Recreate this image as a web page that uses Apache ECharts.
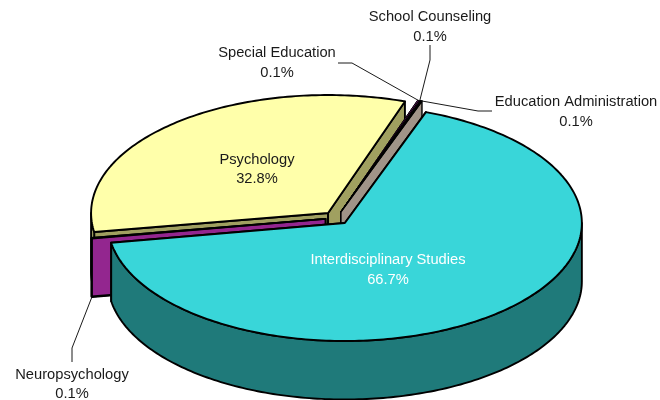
<!DOCTYPE html>
<html>
<head>
<meta charset="utf-8">
<style>html,body{margin:0;padding:0;background:#fff}#c{width:660px;height:400px}</style>
<script src="https://cdn.jsdelivr.net/npm/echarts@6/dist/echarts.min.js"></script>
</head>
<body>
<div id="c"></div>
<script>
// Data, clockwise from the top of the pie
const categories = ['Interdisciplinary Studies','Neuropsychology','Psychology','Special Education','School Counseling','Education Administration'];
const percents = [66.7, 0.1, 32.8, 0.1, 0.1, 0.1];

// Styles and layout
const topColors  = ['#39D6D9','#93268F','#FFFFAA','#93268F','#93268F','#A09488'];
const sideColors = ['#1F7A7A','#93268F','#A0A060','#93268F','#93268F','#A09488'];
const labelColors = ['#ffffff','#1a1a1a','#1a1a1a','#1a1a1a','#1a1a1a','#1a1a1a'];
const explodes = [0.055,0.047,0.055,0.055,0.055,0.055];
const thinStroke = [1.9,1.9,1.9,0.9,0.9,1.4];
const paintOrder = [2,3,4,5,1,0];           // back to front
const labelCentres = [[388,270],[72,384.5],[257,169.5],[277,63],[430,27],[576,112]];
const leaderBends = [null,[[72,362],[72,348]],null,[[338,63],[352,63]],[[430,45],[430,60]],[[492,111],[478,111]]];
const PIE = {cx:336.5, cy:218, rx:237, ry:118, depth:58.5, startDeg:70};

const total = percents.reduce((a,b)=>a+b,0);
const rad = d => d*Math.PI/180;
const spans = []; // {from,to,centre}: math angles in degrees going clockwise
(function(){
  let a = PIE.startDeg;
  percents.forEach((v,i)=>{
    const sweep = v/total*360, from=a, to=a-sweep, mid=rad((from+to)/2);
    spans.push({from,to,
      cx:PIE.cx+Math.cos(mid)*PIE.rx*explodes[i],
      cy:PIE.cy-Math.sin(mid)*PIE.ry*explodes[i]});
    a = to;
  });
})();
const rim = (s,deg)=>[s.cx+PIE.rx*Math.cos(rad(deg)), s.cy-PIE.ry*Math.sin(rad(deg))];
function arc(s,a,b){ // a>b, clockwise sampling
  const pts=[], n=Math.max(1,Math.ceil((a-b)/1));
  for(let i=0;i<=n;i++) pts.push(rim(s,a+(b-a)*i/n));
  return pts;
}
const down = p=>[p[0],p[1]+PIE.depth];

function outerWalls(s){
  // front half of the ellipse: math angles 180..360 (mod 360)
  const out=[];
  for(let k=-1;k<=1;k++){
    const hi=Math.min(s.from,0+360*k), lo=Math.max(s.to,-180+360*k);
    if(hi>lo) out.push([hi,lo]);
  }
  return out;
}
function renderItem(params,api){
  const i=api.value(0), s=spans[i], z=paintOrder.indexOf(i)*10+1;
  const stroke = {stroke:'#000',lineWidth:thinStroke[i],lineJoin:'round'};
  const kids=[];
  const apexBottom=down([s.cx,s.cy]);
  [s.from,s.to].forEach(d=>{
    const r=rim(s,d);
    kids.push({type:'polygon',z2:z,shape:{points:[[s.cx,s.cy],r,down(r),apexBottom]},
      style:Object.assign({fill:sideColors[i]},stroke)});
  });
  outerWalls(s).forEach(([hi,lo])=>{
    const a=arc(s,hi,lo);
    kids.push({type:'polygon',z2:z+1,shape:{points:a.concat(a.map(down).reverse())},
      style:Object.assign({fill:sideColors[i]},stroke)});
  });
  kids.push({type:'polygon',z2:z+2,shape:{points:[[s.cx,s.cy]].concat(arc(s,s.from,s.to))},
    style:Object.assign({fill:topColors[i]},stroke)});
  // leader line
  if(leaderBends[i]){
    const mid=(s.from+s.to)/2, anchor=i===1?down(rim(s,s.from)):rim(s,mid);
    kids.push({type:'polyline',z2:200,shape:{points:leaderBends[i].concat([anchor])},
      style:{fill:null,stroke:'#1a1a1a',lineWidth:1}});
  }
  // label
  kids.push({type:'text',z2:300,x:labelCentres[i][0],y:labelCentres[i][1],
    style:{text:categories[i]+'\n'+percents[i].toFixed(1)+'%',align:'center',verticalAlign:'middle',
      font:'14.7px "Liberation Sans", Arial, sans-serif',lineHeight:19.5,fill:labelColors[i]}});
  return {type:'group',children:kids};
}
const chart=echarts.init(document.getElementById('c'),null,{renderer:'canvas'});
chart.setOption({
  animation:false,
  backgroundColor:'#fff',
  series:[{type:'custom',coordinateSystem:'none',renderItem,silent:true,clip:false,
    data:percents.map((v,i)=>[i,v])}]
});
</script>
</body>
</html>
